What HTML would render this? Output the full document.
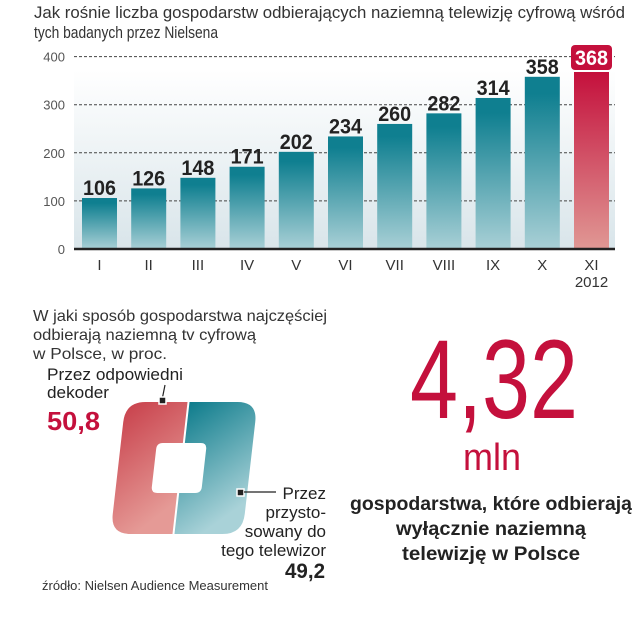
<!DOCTYPE html>
<html><head><meta charset="utf-8"><style>
html,body{margin:0;padding:0;background:#fff;}
svg{display:block;font-family:"Liberation Sans",sans-serif;}
</style></head><body>
<svg id="chart" width="632" height="640" viewBox="0 0 632 640">
<defs>
<linearGradient id="bg" x1="0" y1="0" x2="0" y2="1"><stop offset="0" stop-color="#fff"/><stop offset="1" stop-color="#d9e5ea"/></linearGradient>
<linearGradient id="teal" x1="0" y1="0" x2="0" y2="1"><stop offset="0.1" stop-color="#0f7f90"/><stop offset="1" stop-color="#a9d0d6"/></linearGradient>
<linearGradient id="red" x1="0" y1="0" x2="0" y2="1"><stop offset="0" stop-color="#c4103c"/><stop offset="1" stop-color="#e09894"/></linearGradient>
<linearGradient id="pr" x1="0" y1="0" x2="0.4" y2="1"><stop offset="0" stop-color="#c8404b"/><stop offset="1" stop-color="#e59a96"/></linearGradient>
<linearGradient id="pt" x1="0" y1="0" x2="0.4" y2="1"><stop offset="0" stop-color="#0e7c8c"/><stop offset="1" stop-color="#a9d2d8"/></linearGradient>
</defs>
<text x="34" y="18" font-size="17" fill="#333" textLength="591" lengthAdjust="spacingAndGlyphs">Jak rośnie liczba gospodarstw odbierających naziemną telewizję cyfrową wśród</text>
<text x="34" y="38" font-size="17" fill="#333" textLength="184" lengthAdjust="spacingAndGlyphs">tych badanych przez Nielsena</text>
<rect x="74" y="70" width="541" height="178" fill="url(#bg)"/>
<g id="grid"></g>
<g id="bars"></g>
<line x1="74" y1="249" x2="615" y2="249" stroke="#222" stroke-width="2.5"/>

<text x="33" y="321" font-size="16" fill="#333" textLength="294" lengthAdjust="spacingAndGlyphs">W jaki sposób gospodarstwa najczęściej</text>
<text x="33" y="340" font-size="16" fill="#333" textLength="223" lengthAdjust="spacingAndGlyphs">odbierają naziemną tv cyfrową</text>
<text x="33" y="359" font-size="16" fill="#333" textLength="134" lengthAdjust="spacingAndGlyphs">w Polsce, w proc.</text>

<g transform="translate(178,468) skewX(-6.5)">
<path d="M2,-66 H-40 Q-60,-66 -60,-46 V46 Q-60,66 -40,66 H2 V25 H-18 Q-24,25 -24,19 V-19 Q-24,-25 -18,-25 H2 Z" fill="url(#pr)"/>
<path d="M4,-66 H52 Q72,-66 72,-46 V46 Q72,66 52,66 H4 V25 H20 Q26,25 26,19 V-19 Q26,-25 20,-25 H4 Z" fill="url(#pt)"/>
</g>
<line x1="165" y1="385" x2="162" y2="400" stroke="#222" stroke-width="1.2"/>
<rect x="159" y="397" width="7" height="7" fill="#222" stroke="#fff" stroke-width="1.5"/>
<rect x="237" y="489" width="7" height="7" fill="#222" stroke="#fff" stroke-width="1.5"/>
<line x1="244" y1="492" x2="276" y2="492" stroke="#222" stroke-width="1.2"/>
<text x="47" y="380" font-size="17" fill="#222" textLength="136" lengthAdjust="spacingAndGlyphs">Przez odpowiedni</text>
<text x="47" y="398" font-size="17" fill="#222" textLength="62" lengthAdjust="spacingAndGlyphs">dekoder</text>
<text x="47" y="430" font-size="26" font-weight="bold" fill="#c4103c" textLength="53" lengthAdjust="spacingAndGlyphs">50,8</text>
<g font-size="17" fill="#222" text-anchor="end">
<text x="326" y="499">Przez</text>
<text x="326" y="518">przysto-</text>
<text x="326" y="537">sowany do</text>
<text x="326" y="556">tego telewizor</text>
</g>
<text x="325" y="578" font-size="21" font-weight="bold" fill="#222" text-anchor="end" textLength="40" lengthAdjust="spacingAndGlyphs">49,2</text>
<text x="42" y="590" font-size="13" fill="#333" textLength="226" lengthAdjust="spacingAndGlyphs">źródło: Nielsen Audience Measurement</text>

<text x="410" y="418" font-size="112" font-weight="normal" fill="#c4103c" textLength="168" lengthAdjust="spacingAndGlyphs">4,32</text>
<text x="463" y="470" font-size="38" fill="#c4103c" textLength="58" lengthAdjust="spacingAndGlyphs">mln</text>
<g font-size="19" font-weight="bold" fill="#222" text-anchor="middle">
<text x="491" y="510" textLength="282" lengthAdjust="spacingAndGlyphs">gospodarstwa, które odbierają</text>
<text x="491" y="535" textLength="190" lengthAdjust="spacingAndGlyphs">wyłącznie naziemną</text>
<text x="491" y="560" textLength="178" lengthAdjust="spacingAndGlyphs">telewizję w Polsce</text>
</g>
</svg>
<script>
const categories = ["I","II","III","IV","V","VI","VII","VIII","IX","X","XI"];
const values = [106,126,148,171,202,234,260,282,314,358,368];
const ticks = [0,100,200,300,400];
const NS = "http://www.w3.org/2000/svg";
const y0 = 249, yScale = 48.1/100;
function y(v){ return y0 - v*yScale; }
function x(i){ return 82 + i*49.2; }
const bw = 35;
function mk(tag, attrs, parent){ const e=document.createElementNS(NS,tag); for(const k in attrs) e.setAttribute(k,attrs[k]); parent.appendChild(e); return e; }
const grid = document.getElementById('grid');
const bars = document.getElementById('bars');
ticks.forEach(t=>{
  if(t>0){
    const l = mk('line',{x1:74,x2:615,y1:y(t),y2:y(t),stroke:'#444','stroke-width':1,'stroke-dasharray':'3,2'},grid);
    
    
  }
  const tx = mk('text',{x:65,y:y(t)+5,'font-size':13,fill:'#555','text-anchor':'end'},grid);
  tx.textContent = t;
  
  
});
categories.forEach((c,i)=>{
  const last = i===categories.length-1;
  const r = mk('rect',{x:x(i),y:y(values[i]),width:bw,height:y0-y(values[i]),fill:last?'url(#red)':'url(#teal)'},bars);
  
  
  const cx = x(i)+bw/2;
  if(last){
    const b = mk('rect',{x:x(i)-3,y:y(values[i])-27,width:bw+6,height:25,rx:4,fill:'#c4103c'},bars);
    
    
  }
  const v = mk('text',{x:cx,y:y(values[i])-(last?7:3),'font-size':21,'font-weight':'bold',fill:last?'#fff':'#222','text-anchor':'middle',textLength:33,lengthAdjust:'spacingAndGlyphs'},bars);
  v.textContent = values[i];
  
  
  const l = mk('text',{x:cx,y:270,'font-size':15,fill:'#333','text-anchor':'middle'},bars);
  l.textContent = c;
  
  
});
const yr = mk('text',{x:x(10)+bw/2,y:287,'font-size':15,fill:'#333','text-anchor':'middle'},bars);
yr.textContent = '2012';


</script>
</body></html>
